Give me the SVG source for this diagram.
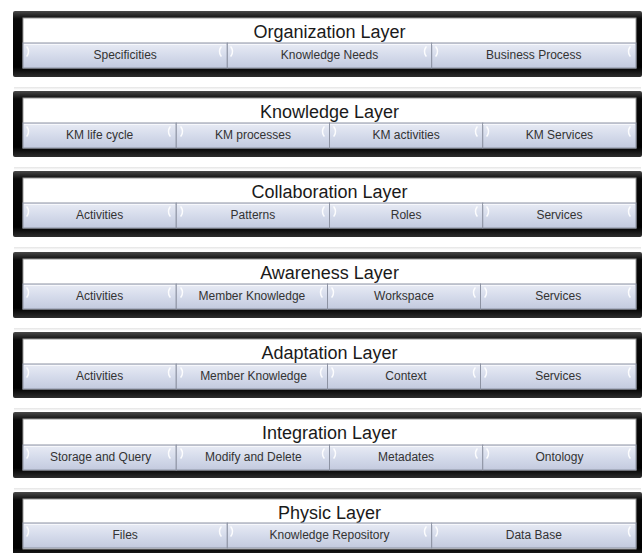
<svg xmlns="http://www.w3.org/2000/svg" width="644" height="553" viewBox="0 0 644 553">
<defs>
<linearGradient id="frame" x1="0" y1="0" x2="0" y2="1">
<stop offset="0" stop-color="#4a4a4a"/>
<stop offset="0.12" stop-color="#0a0a0a"/>
<stop offset="0.85" stop-color="#000"/>
<stop offset="1" stop-color="#2e2e2e"/>
</linearGradient>
<linearGradient id="cell" x1="0" y1="0" x2="0" y2="1">
<stop offset="0" stop-color="#e9ecf5"/>
<stop offset="0.5" stop-color="#d5dbeb"/>
<stop offset="1" stop-color="#c3cade"/>
</linearGradient>
<linearGradient id="refl" x1="0" y1="0" x2="0" y2="1">
<stop offset="0" stop-color="#e4e4e4"/>
<stop offset="1" stop-color="#ffffff"/>
</linearGradient>
</defs>
<style>
.outer{fill:url(#frame);}
.inner{fill:#ffffff;stroke:#9a9a9a;stroke-width:1;}
.cell{fill:url(#cell);stroke:#8d93a3;stroke-width:1;}
.hl{fill:none;stroke:#f7f8fc;stroke-width:1;}
.br{fill:none;stroke:#ffffff;stroke-width:1.6;stroke-linecap:round;opacity:0.9;}
.refl{fill:url(#refl);}
.title{font-family:"Liberation Sans",Arial,sans-serif;font-size:18px;fill:#1a1a1a;text-anchor:middle;}
.lbl{font-family:"Liberation Sans",Arial,sans-serif;font-size:12px;fill:#333333;text-anchor:middle;}
</style>

<!-- Organization Layer -->
<g id="organization-layer" transform="translate(0,11)">
<rect class="refl" x="14" y="76" width="627" height="3"/>
<rect class="outer" x="13" y="0" width="629" height="66" rx="2"/>
<rect class="inner" x="23" y="7" width="613" height="50"/>
<text class="title" x="329.5" y="27">Organization Layer</text>
<g id="org-specificities"><rect class="cell" x="23" y="32" width="204.3" height="25"/><path class="hl" d="M24,33.5 H226"/><path class="br" d="M27,36 q3,4.5 0,9"/><path class="br" d="M221,36 q-3,4.5 0,9"/><text class="lbl" x="125.2" y="48">Specificities</text></g>
<g id="org-knowledge-needs"><rect class="cell" x="227.3" y="32" width="204.3" height="25"/><path class="hl" d="M228,33.5 H431"/><path class="br" d="M231,36 q3,4.5 0,9"/><path class="br" d="M426,36 q-3,4.5 0,9"/><text class="lbl" x="329.5" y="48">Knowledge Needs</text></g>
<g id="org-business-process"><rect class="cell" x="431.7" y="32" width="204.3" height="25"/><path class="hl" d="M432,33.5 H635"/><path class="br" d="M436,36 q3,4.5 0,9"/><path class="br" d="M630,36 q-3,4.5 0,9"/><text class="lbl" x="533.8" y="48">Business Process</text></g>
</g>

<!-- Knowledge Layer -->
<g id="knowledge-layer" transform="translate(0,91)">
<rect class="refl" x="14" y="76" width="627" height="3"/>
<rect class="outer" x="13" y="0" width="629" height="66" rx="2"/>
<rect class="inner" x="23" y="7" width="613" height="50"/>
<text class="title" x="329.5" y="27">Knowledge Layer</text>
<g id="km-life-cycle"><rect class="cell" x="23" y="32" width="153.25" height="25"/><path class="hl" d="M24,33.5 H175"/><path class="br" d="M27,36 q3,4.5 0,9"/><path class="br" d="M170,36 q-3,4.5 0,9"/><text class="lbl" x="99.6" y="48">KM life cycle</text></g>
<g id="km-processes"><rect class="cell" x="176.25" y="32" width="153.25" height="25"/><path class="hl" d="M177,33.5 H329"/><path class="br" d="M181,36 q3,4.5 0,9"/><path class="br" d="M324,36 q-3,4.5 0,9"/><text class="lbl" x="252.9" y="48">KM processes</text></g>
<g id="km-activities"><rect class="cell" x="329.5" y="32" width="153.25" height="25"/><path class="hl" d="M330,33.5 H482"/><path class="br" d="M334,36 q3,4.5 0,9"/><path class="br" d="M477,36 q-3,4.5 0,9"/><text class="lbl" x="406.1" y="48">KM activities</text></g>
<g id="km-services"><rect class="cell" x="482.75" y="32" width="153.25" height="25"/><path class="hl" d="M483,33.5 H635"/><path class="br" d="M487,36 q3,4.5 0,9"/><path class="br" d="M630,36 q-3,4.5 0,9"/><text class="lbl" x="559.4" y="48">KM Services</text></g>
</g>

<!-- Collaboration Layer -->
<g id="collaboration-layer" transform="translate(0,171)">
<rect class="refl" x="14" y="76" width="627" height="3"/>
<rect class="outer" x="13" y="0" width="629" height="66" rx="2"/>
<rect class="inner" x="23" y="7" width="613" height="50"/>
<text class="title" x="329.5" y="27">Collaboration Layer</text>
<g id="collab-activities"><rect class="cell" x="23" y="32" width="153.25" height="25"/><path class="hl" d="M24,33.5 H175"/><path class="br" d="M27,36 q3,4.5 0,9"/><path class="br" d="M170,36 q-3,4.5 0,9"/><text class="lbl" x="99.6" y="48">Activities</text></g>
<g id="collab-patterns"><rect class="cell" x="176.25" y="32" width="153.25" height="25"/><path class="hl" d="M177,33.5 H329"/><path class="br" d="M181,36 q3,4.5 0,9"/><path class="br" d="M324,36 q-3,4.5 0,9"/><text class="lbl" x="252.9" y="48">Patterns</text></g>
<g id="collab-roles"><rect class="cell" x="329.5" y="32" width="153.25" height="25"/><path class="hl" d="M330,33.5 H482"/><path class="br" d="M334,36 q3,4.5 0,9"/><path class="br" d="M477,36 q-3,4.5 0,9"/><text class="lbl" x="406.1" y="48">Roles</text></g>
<g id="collab-services"><rect class="cell" x="482.75" y="32" width="153.25" height="25"/><path class="hl" d="M483,33.5 H635"/><path class="br" d="M487,36 q3,4.5 0,9"/><path class="br" d="M630,36 q-3,4.5 0,9"/><text class="lbl" x="559.4" y="48">Services</text></g>
</g>

<!-- Awareness Layer -->
<g id="awareness-layer" transform="translate(0,252)">
<rect class="refl" x="14" y="76" width="627" height="3"/>
<rect class="outer" x="13" y="0" width="629" height="66" rx="2"/>
<rect class="inner" x="23" y="7" width="613" height="50"/>
<text class="title" x="329.5" y="27">Awareness Layer</text>
<g id="aware-activities"><rect class="cell" x="23" y="32" width="153.25" height="25"/><path class="hl" d="M24,33.5 H175"/><path class="br" d="M27,36 q3,4.5 0,9"/><path class="br" d="M170,36 q-3,4.5 0,9"/><text class="lbl" x="99.6" y="48">Activities</text></g>
<g id="aware-member-knowledge"><rect class="cell" x="176.25" y="32" width="151.25" height="25"/><path class="hl" d="M177,33.5 H327"/><path class="br" d="M181,36 q3,4.5 0,9"/><path class="br" d="M322,36 q-3,4.5 0,9"/><text class="lbl" x="251.9" y="48">Member Knowledge</text></g>
<g id="aware-workspace"><rect class="cell" x="327.5" y="32" width="153" height="25"/><path class="hl" d="M328,33.5 H480"/><path class="br" d="M332,36 q3,4.5 0,9"/><path class="br" d="M475,36 q-3,4.5 0,9"/><text class="lbl" x="404" y="48">Workspace</text></g>
<g id="aware-services"><rect class="cell" x="480.5" y="32" width="155.5" height="25"/><path class="hl" d="M481,33.5 H635"/><path class="br" d="M485,36 q3,4.5 0,9"/><path class="br" d="M630,36 q-3,4.5 0,9"/><text class="lbl" x="558.2" y="48">Services</text></g>
</g>

<!-- Adaptation Layer -->
<g id="adaptation-layer" transform="translate(0,332)">
<rect class="refl" x="14" y="76" width="627" height="3"/>
<rect class="outer" x="13" y="0" width="629" height="66" rx="2"/>
<rect class="inner" x="23" y="7" width="613" height="50"/>
<text class="title" x="329.5" y="27">Adaptation Layer</text>
<g id="adapt-activities"><rect class="cell" x="23" y="32" width="153.25" height="25"/><path class="hl" d="M24,33.5 H175"/><path class="br" d="M27,36 q3,4.5 0,9"/><path class="br" d="M170,36 q-3,4.5 0,9"/><text class="lbl" x="99.6" y="48">Activities</text></g>
<g id="adapt-member-knowledge"><rect class="cell" x="176.25" y="32" width="151.25" height="25"/><path class="hl" d="M177,33.5 H327"/><path class="br" d="M181,36 q3,4.5 0,9"/><path class="br" d="M322,36 q-3,4.5 0,9"/><text class="lbl" x="253.5" y="48">Member Knowledge</text></g>
<g id="adapt-context"><rect class="cell" x="327.5" y="32" width="153" height="25"/><path class="hl" d="M328,33.5 H480"/><path class="br" d="M332,36 q3,4.5 0,9"/><path class="br" d="M475,36 q-3,4.5 0,9"/><text class="lbl" x="406" y="48">Context</text></g>
<g id="adapt-services"><rect class="cell" x="480.5" y="32" width="155.5" height="25"/><path class="hl" d="M481,33.5 H635"/><path class="br" d="M485,36 q3,4.5 0,9"/><path class="br" d="M630,36 q-3,4.5 0,9"/><text class="lbl" x="558.2" y="48">Services</text></g>
</g>

<!-- Integration Layer -->
<g id="integration-layer" transform="translate(0,412)">
<rect class="refl" x="14" y="76" width="627" height="3"/>
<rect class="outer" x="13" y="0" width="629" height="66" rx="2"/>
<rect class="inner" x="23" y="7" width="613" height="51"/>
<text class="title" x="329.5" y="27">Integration Layer</text>
<g id="integ-storage-query"><rect class="cell" x="23" y="33" width="153.25" height="25"/><path class="hl" d="M24,34.5 H175"/><path class="br" d="M27,37 q3,4.5 0,9"/><path class="br" d="M170,37 q-3,4.5 0,9"/><text class="lbl" x="100.6" y="49">Storage and Query</text></g>
<g id="integ-modify-delete"><rect class="cell" x="176.25" y="33" width="153.25" height="25"/><path class="hl" d="M177,34.5 H329"/><path class="br" d="M181,37 q3,4.5 0,9"/><path class="br" d="M324,37 q-3,4.5 0,9"/><text class="lbl" x="253.4" y="49">Modify and Delete</text></g>
<g id="integ-metadates"><rect class="cell" x="329.5" y="33" width="153.25" height="25"/><path class="hl" d="M330,34.5 H482"/><path class="br" d="M334,37 q3,4.5 0,9"/><path class="br" d="M477,37 q-3,4.5 0,9"/><text class="lbl" x="406.1" y="49">Metadates</text></g>
<g id="integ-ontology"><rect class="cell" x="482.75" y="33" width="153.25" height="25"/><path class="hl" d="M483,34.5 H635"/><path class="br" d="M487,37 q3,4.5 0,9"/><path class="br" d="M630,37 q-3,4.5 0,9"/><text class="lbl" x="559.4" y="49">Ontology</text></g>
</g>

<!-- Physic Layer -->
<g id="physic-layer" transform="translate(0,492)">
<rect class="outer" x="13" y="0" width="629" height="66" rx="2"/>
<rect class="inner" x="23" y="7" width="613" height="50"/>
<text class="title" x="329.5" y="27">Physic Layer</text>
<g id="phys-files"><rect class="cell" x="23" y="31" width="204.3" height="25"/><path class="hl" d="M24,32.5 H226"/><path class="br" d="M27,35 q3,4.5 0,9"/><path class="br" d="M221,35 q-3,4.5 0,9"/><text class="lbl" x="125.2" y="47">Files</text></g>
<g id="phys-knowledge-repository"><rect class="cell" x="227.3" y="31" width="204.3" height="25"/><path class="hl" d="M228,32.5 H431"/><path class="br" d="M231,35 q3,4.5 0,9"/><path class="br" d="M426,35 q-3,4.5 0,9"/><text class="lbl" x="329.5" y="47">Knowledge Repository</text></g>
<g id="phys-data-base"><rect class="cell" x="431.7" y="31" width="204.3" height="25"/><path class="hl" d="M432,32.5 H635"/><path class="br" d="M436,35 q3,4.5 0,9"/><path class="br" d="M630,35 q-3,4.5 0,9"/><text class="lbl" x="533.8" y="47">Data Base</text></g>
</g>

<g id="connectors"/>
</svg>
